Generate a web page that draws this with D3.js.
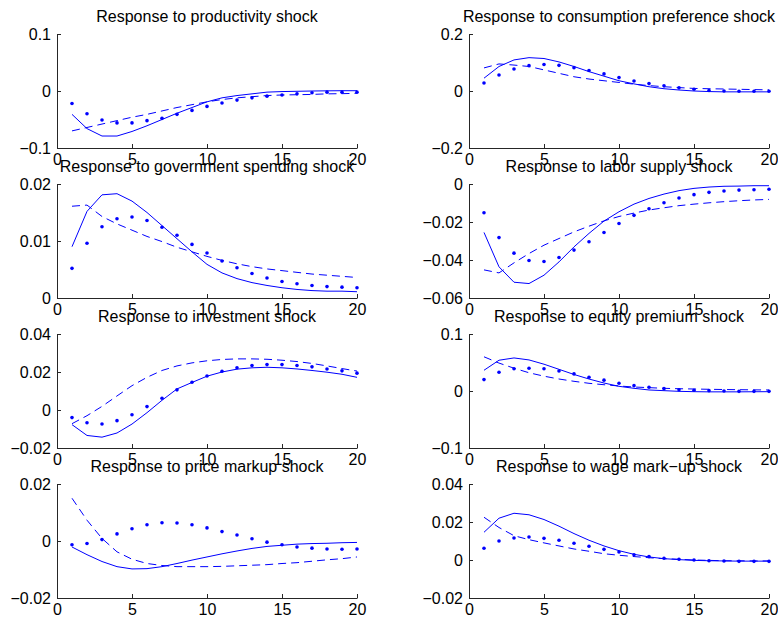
<!DOCTYPE html>
<html>
<head>
<meta charset="utf-8">
<script src="https://cdn.jsdelivr.net/npm/d3@7"></script>
<style>
  body { margin: 0; background: #fff; overflow: hidden; }
  svg { display: block; }
  text { font-family: "Liberation Sans", Arial, Helvetica, sans-serif; }
</style>
</head>
<body>
<div id="canvas"></div>
<script>
// -------------------------------------------- Data
const periods = d3.range(1, 21);
const xTicks = [0, 5, 10, 15, 20];

const titles = [
  "Response to productivity shock",
  "Response to consumption preference shock",
  "Response to government spending shock",
  "Response to labor supply shock",
  "Response to investment shock",
  "Response to equity premium shock",
  "Response to price markup shock",
  "Response to wage mark\u2212up shock"
];

const yDomains = [
  [-0.1, 0.1], [-0.2, 0.2], [0, 0.02], [-0.06, 0],
  [-0.02, 0.04], [-0.1, 0.1], [-0.02, 0.02], [-0.02, 0.04]
];

const yTicks = [
  [-0.1, 0, 0.1], [-0.2, 0, 0.2], [0, 0.01, 0.02], [-0.06, -0.04, -0.02, 0],
  [-0.02, 0, 0.02, 0.04], [-0.1, 0, 0.1], [-0.02, 0, 0.02], [-0.02, 0, 0.02, 0.04]
];

// productivity
const prodSolid = [-0.041,-0.066,-0.079,-0.079,-0.071,-0.061,-0.050,-0.039,-0.029,-0.019,-0.012,-0.008,-0.005,-0.002,-0.001,-0.0005,0,0.0003,0.0005,0.0005];
const prodDash = [-0.070,-0.064,-0.058,-0.052,-0.046,-0.041,-0.035,-0.029,-0.024,-0.019,-0.015,-0.012,-0.010,-0.008,-0.007,-0.0065,-0.006,-0.005,-0.0047,-0.004];
const prodDots = [-0.022,-0.040,-0.051,-0.056,-0.056,-0.052,-0.048,-0.041,-0.034,-0.027,-0.021,-0.016,-0.012,-0.009,-0.007,-0.005,-0.003,-0.002,-0.002,-0.002];

// consumption preference
const consSolid = [0.045,0.086,0.109,0.117,0.114,0.102,0.086,0.068,0.052,0.036,0.025,0.015,0.008,0.0035,0,-0.002,-0.003,-0.003,-0.003,-0.003];
const consDash = [0.081,0.095,0.091,0.086,0.074,0.062,0.050,0.042,0.036,0.030,0.024,0.019,0.015,0.012,0.009,0.008,0.007,0.006,0.005,0.004];
const consDots = [0.028,0.056,0.077,0.089,0.093,0.090,0.082,0.072,0.060,0.047,0.035,0.026,0.018,0.011,0.006,0.002,0,-0.001,-0.001,-0.001];

// government spending
const govSolid = [0.0090,0.0152,0.0181,0.0183,0.0170,0.0150,0.0127,0.0104,0.0081,0.0059,0.0044,0.0034,0.0027,0.0022,0.0018,0.0015,0.0013,0.0012,0.0012,0.0011];
const govDash = [0.0161,0.0163,0.0143,0.0130,0.0119,0.0108,0.0099,0.0089,0.0081,0.0073,0.0066,0.0060,0.0055,0.0051,0.0048,0.0045,0.0042,0.0040,0.0038,0.0036];
const govDots = [0.0052,0.0096,0.0125,0.0139,0.0142,0.0136,0.0124,0.0110,0.0094,0.0079,0.0065,0.0053,0.0043,0.0035,0.0029,0.0025,0.0022,0.0020,0.0019,0.0018];

// labor supply
const laborSolid = [-0.0255,-0.0436,-0.0517,-0.0524,-0.0480,-0.0410,-0.0331,-0.0260,-0.0195,-0.0146,-0.0106,-0.0076,-0.0053,-0.0035,-0.0023,-0.0016,-0.0012,-0.0011,-0.0009,-0.0009];
const laborDash = [-0.0452,-0.0468,-0.0415,-0.0366,-0.0322,-0.0287,-0.0252,-0.0222,-0.0194,-0.0171,-0.0153,-0.0137,-0.0125,-0.0114,-0.0106,-0.0099,-0.0093,-0.0088,-0.0084,-0.0081];
const laborDots = [-0.0151,-0.0282,-0.0364,-0.0403,-0.0408,-0.0387,-0.0348,-0.0304,-0.0255,-0.0208,-0.0165,-0.0130,-0.0099,-0.0074,-0.0056,-0.0044,-0.0037,-0.0032,-0.0030,-0.0028];

// investment
const invSolid = [-0.0077,-0.0134,-0.0143,-0.0121,-0.0074,-0.0014,0.0051,0.0111,0.0145,0.0178,0.0200,0.0215,0.0222,0.0225,0.0222,0.0216,0.0208,0.0199,0.0188,0.0172];
const invDash = [-0.0072,-0.0030,0.0019,0.0074,0.0128,0.0172,0.0208,0.0232,0.0248,0.0259,0.0266,0.0269,0.0269,0.0267,0.0262,0.0255,0.0245,0.0232,0.0218,0.0205];
const invDots = [-0.0040,-0.0067,-0.0074,-0.0056,-0.0025,0.0018,0.0062,0.0106,0.0146,0.0179,0.0204,0.0222,0.0234,0.0239,0.0239,0.0234,0.0227,0.0216,0.0206,0.0194];

// equity premium
const eqSolid = [0.0364,0.054,0.058,0.0545,0.047,0.038,0.029,0.021,0.014,0.0082,0.0047,0.0018,0.0006,-0.0006,-0.0012,-0.0015,-0.0015,-0.0015,-0.0013,-0.0012];
const eqDash = [0.060,0.049,0.040,0.032,0.026,0.021,0.017,0.0135,0.011,0.0088,0.007,0.0059,0.0047,0.004,0.0035,0.003,0.0026,0.0023,0.002,0.0018];
const eqDots = [0.020,0.033,0.039,0.040,0.039,0.035,0.030,0.024,0.019,0.0135,0.0094,0.0065,0.0041,0.0023,0.0012,0.0006,0,-0.0006,-0.0006,-0.0006];

// price markup
const priceSolid = [-0.0021,-0.0048,-0.0072,-0.0090,-0.0098,-0.0097,-0.0090,-0.0079,-0.0067,-0.0056,-0.0045,-0.0035,-0.0026,-0.0019,-0.0015,-0.0011,-0.0009,-0.0008,-0.0006,-0.0005];
const priceDash = [0.0150,0.0073,0.0009,-0.0038,-0.0064,-0.0079,-0.0086,-0.0090,-0.0090,-0.0090,-0.0089,-0.0087,-0.0085,-0.0083,-0.0079,-0.0076,-0.0071,-0.0066,-0.0062,-0.0056];
const priceDots = [-0.0013,-0.0009,0.0005,0.0025,0.0043,0.0057,0.0064,0.0063,0.0057,0.0046,0.0033,0.0021,0.0008,-0.0004,-0.0013,-0.0021,-0.0025,-0.0028,-0.0029,-0.0028];

// wage mark-up
const wageSolid = [0.0146,0.0220,0.0246,0.0238,0.0213,0.0178,0.0139,0.0104,0.0074,0.0049,0.0030,0.0016,0.0007,0.0002,-0.0002,-0.0004,-0.0005,-0.0006,-0.0006,-0.0006];
const wageDash = [0.0225,0.0171,0.0128,0.0107,0.0090,0.0074,0.0058,0.0046,0.0033,0.0025,0.0018,0.0012,0.0007,0.0004,0,-0.0002,-0.0004,-0.0004,-0.0005,-0.0005];
const wageDots = [0.0062,0.0100,0.0116,0.0121,0.0114,0.0104,0.0088,0.0072,0.0056,0.0042,0.0028,0.0018,0.0009,0.0004,0,-0.0004,-0.0005,-0.0007,-0.0007,-0.0007];

const solidSeries = [prodSolid, consSolid, govSolid, laborSolid, invSolid, eqSolid, priceSolid, wageSolid];
const dashSeries = [prodDash, consDash, govDash, laborDash, invDash, eqDash, priceDash, wageDash];
const dotSeries = [prodDots, consDots, govDots, laborDots, invDots, eqDots, priceDots, wageDots];

// -------------------------------------------- Dimensiones del lienzo
const width = 778;
const height = 617;
const colLeft = [57, 469];
const rowTop = [34, 184, 334, 484];
const pw = 300;
const ph = 114;
const blue = "#0000ff";
const fontSize = 16;

const svg = d3.select("#canvas").append("svg")
  .attr("width", width)
  .attr("height", height)
  .style("background", "#fff");

const fmt = d3.format("~g");

// -------------------------------------------- Subplots
titles.forEach((title, i) => {
  const col = i % 2;
  const row = Math.floor(i / 2);
  const g = svg.append("g")
    .attr("transform", `translate(${colLeft[col]},${rowTop[row]})`);

  const x = d3.scaleLinear().domain([0, 20]).range([0, pw]);
  const y = d3.scaleLinear().domain(yDomains[i]).range([ph, 0]);

  // -- Eje X
  const gx = g.append("g")
    .attr("transform", `translate(0,${ph})`)
    .call(d3.axisBottom(x).tickValues(xTicks).tickSize(-4).tickSizeOuter(0).tickPadding(6).tickFormat(fmt));

  // -- Eje Y
  const gy = g.append("g")
    .call(d3.axisLeft(y).tickValues(yTicks[i]).tickSize(-4).tickSizeOuter(0).tickPadding(6).tickFormat(fmt));

  [gx, gy].forEach((ax) => {
    ax.selectAll("path, line").attr("stroke", "#262626").attr("stroke-width", 1);
    ax.selectAll("text")
      .attr("fill", "#000")
      .style("font-size", fontSize + "px")
      .style("font-family", '"Liberation Sans", Arial, sans-serif');
  });

  // -- Título
  g.append("text")
    .attr("x", pw / 2)
    .attr("y", -12)
    .attr("text-anchor", "middle")
    .style("font-size", fontSize + "px")
    .text(title);

  // -- Líneas
  const line = d3.line()
    .x((d, k) => x(periods[k]))
    .y((d) => y(d));

  g.append("path")
    .datum(solidSeries[i])
    .attr("d", line)
    .attr("fill", "none")
    .attr("stroke", blue)
    .attr("stroke-width", 1);

  g.append("path")
    .datum(dashSeries[i])
    .attr("d", line)
    .attr("fill", "none")
    .attr("stroke", blue)
    .attr("stroke-width", 1)
    .attr("stroke-dasharray", "8,5");

  g.selectAll(".dot")
    .data(dotSeries[i])
    .enter()
    .append("circle")
    .attr("class", "dot")
    .attr("cx", (d, k) => x(periods[k]))
    .attr("cy", (d) => y(d))
    .attr("r", 1.8)
    .attr("fill", blue);
});
</script>
</body>
</html>
